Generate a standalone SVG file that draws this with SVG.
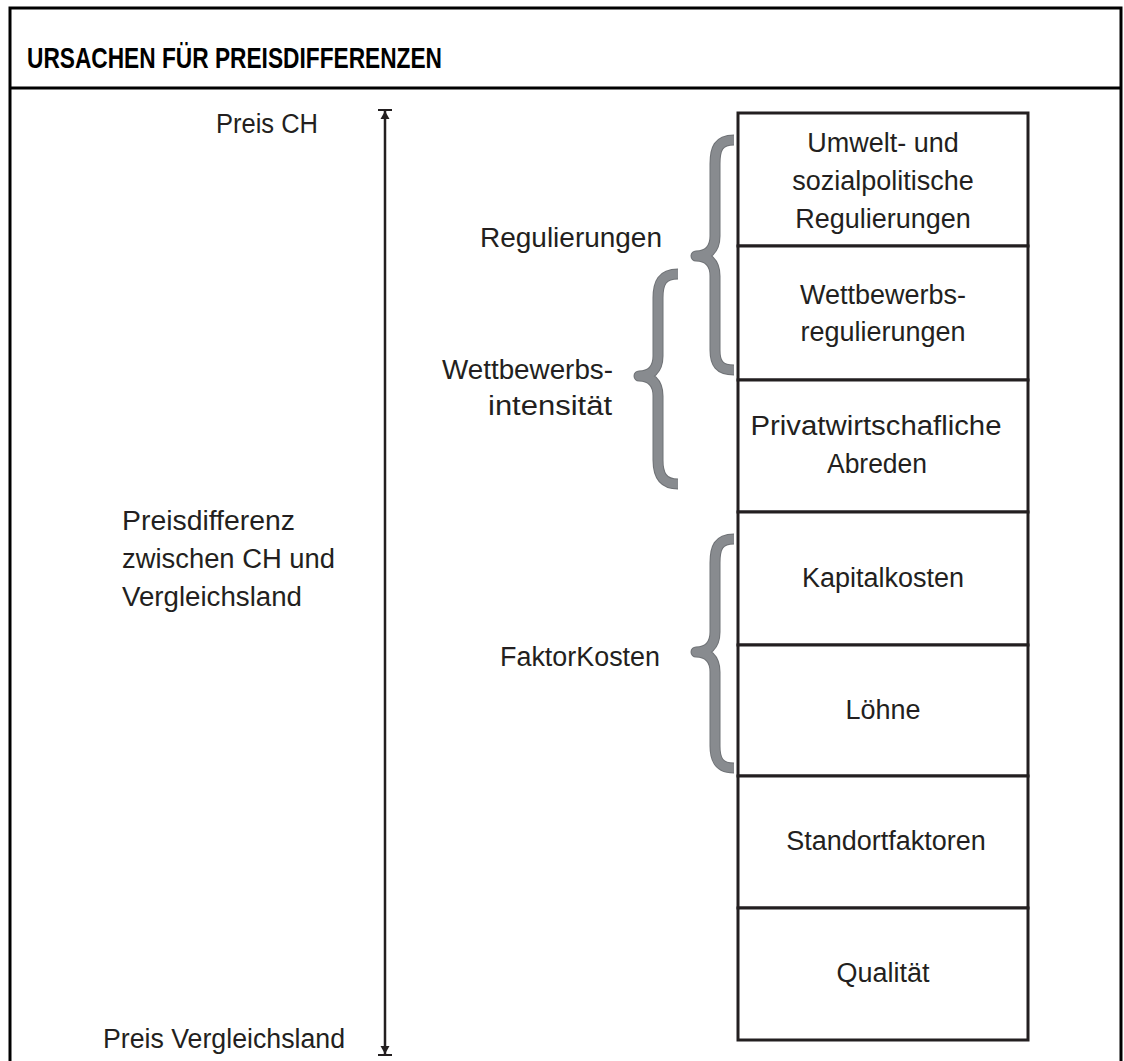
<svg xmlns="http://www.w3.org/2000/svg" width="1124" height="1061" viewBox="0 0 1124 1061">
<defs>
<style>
.t{font-family:"Liberation Sans",Arial,sans-serif;font-size:27px;fill:#231f20}
.c{text-anchor:middle}
.h{font-family:"Liberation Sans",Arial,sans-serif;font-size:30px;font-weight:bold;fill:#000}
.box{fill:#fff;stroke:#231f20;stroke-width:3}
.br1{fill:none;stroke:#6f7276;stroke-width:11;stroke-linejoin:round}
.br2{fill:none;stroke:#888b8f;stroke-width:9;stroke-linejoin:round}
.frame{stroke:#000;stroke-width:3;fill:none}
</style>
<marker id="up" markerWidth="16" markerHeight="14" refX="8" refY="2" orient="0" markerUnits="userSpaceOnUse">
<path d="M1,1 H15" stroke="#231f20" stroke-width="2"/>
<path d="M8,2 L12.5,10 H3.5 Z" fill="#231f20"/>
</marker>
<marker id="down" markerWidth="16" markerHeight="14" refX="8" refY="12" orient="0" markerUnits="userSpaceOnUse">
<path d="M1,13 H15" stroke="#231f20" stroke-width="2"/>
<path d="M8,12 L12.5,4 H3.5 Z" fill="#231f20"/>
</marker>
</defs>
<rect width="1124" height="1061" fill="#fff"/>
<g id="frame">
<path class="frame" d="M10,1061 V8 H1121 V1061"/>
<line class="frame" x1="10" y1="88" x2="1121" y2="88"/>
<text class="h" x="27" y="68" textLength="415" lengthAdjust="spacingAndGlyphs">URSACHEN FÜR PREISDIFFERENZEN</text>
</g>
<g id="connectors">
<line x1="385" y1="111" x2="385" y2="1054" stroke="#231f20" stroke-width="2.5" marker-start="url(#up)" marker-end="url(#down)"/>
</g>
<g id="labels">
<text class="t" x="216" y="133" textLength="102" lengthAdjust="spacingAndGlyphs">Preis CH</text>
<text class="t" x="103" y="1048" textLength="242" lengthAdjust="spacingAndGlyphs">Preis Vergleichsland</text>
<text class="t" x="122" y="530" textLength="173" lengthAdjust="spacingAndGlyphs">Preisdifferenz</text>
<text class="t" x="122" y="568" textLength="213" lengthAdjust="spacingAndGlyphs">zwischen CH und</text>
<text class="t" x="122" y="606" textLength="180" lengthAdjust="spacingAndGlyphs">Vergleichsland</text>
<text class="t" x="480" y="247" textLength="182" lengthAdjust="spacingAndGlyphs">Regulierungen</text>
<text class="t" x="442" y="379" textLength="171" lengthAdjust="spacingAndGlyphs">Wettbewerbs-</text>
<text class="t" x="488" y="415" textLength="124" lengthAdjust="spacingAndGlyphs">intensität</text>
<text class="t" x="500" y="666" textLength="160" lengthAdjust="spacingAndGlyphs">FaktorKosten</text>
</g>
<g id="braces">
<path class="br1" d="M734,140 C718,140 715,149 715,164 L715,236 C715,250 707,256 696,256 C707,256 715,262 715,276 L715,350 C715,363 719,370 734,370"/>
<path class="br2" d="M734,140 C718,140 715,149 715,164 L715,236 C715,250 707,256 696,256 C707,256 715,262 715,276 L715,350 C715,363 719,370 734,370"/>
<path class="br1" d="M678,274 C662,274 658,283 658,298 L658,356 C658,370 650,376 639,376 C650,376 658,382 658,396 L658,460 C658,474 662,484 678,484"/>
<path class="br2" d="M678,274 C662,274 658,283 658,298 L658,356 C658,370 650,376 639,376 C650,376 658,382 658,396 L658,460 C658,474 662,484 678,484"/>
<path class="br1" d="M734,539 C718,539 715,548 715,563 L715,632 C715,646 707,652 696,652 C707,652 715,658 715,672 L715,746 C715,760 719,768 734,768"/>
<path class="br2" d="M734,539 C718,539 715,548 715,563 L715,632 C715,646 707,652 696,652 C707,652 715,658 715,672 L715,746 C715,760 719,768 734,768"/>
</g>
<g id="n1"><rect class="box" x="738" y="113" width="290" height="133"/>
<text class="t c" x="883" y="152">Umwelt- und</text><text class="t c" x="883" y="190">sozialpolitische</text><text class="t c" x="883" y="228">Regulierungen</text></g>
<g id="n2"><rect class="box" x="738" y="246" width="290" height="134"/>
<text class="t c" x="883" y="304">Wettbewerbs-</text><text class="t c" x="883" y="341">regulierungen</text></g>
<g id="n3"><rect class="box" x="738" y="380" width="290" height="132"/>
<text class="t c" x="876" y="435" textLength="251" lengthAdjust="spacingAndGlyphs">Privatwirtschafliche</text><text class="t c" x="877" y="473" textLength="100" lengthAdjust="spacingAndGlyphs">Abreden</text></g>
<g id="n4"><rect class="box" x="738" y="512" width="290" height="133"/>
<text class="t c" x="883" y="587">Kapitalkosten</text></g>
<g id="n5"><rect class="box" x="738" y="645" width="290" height="131"/>
<text class="t c" x="883" y="719">Löhne</text></g>
<g id="n6"><rect class="box" x="738" y="776" width="290" height="132"/>
<text class="t c" x="886" y="850">Standortfaktoren</text></g>
<g id="n7"><rect class="box" x="738" y="908" width="290" height="132"/>
<text class="t c" x="883" y="982">Qualität</text></g>
</svg>
